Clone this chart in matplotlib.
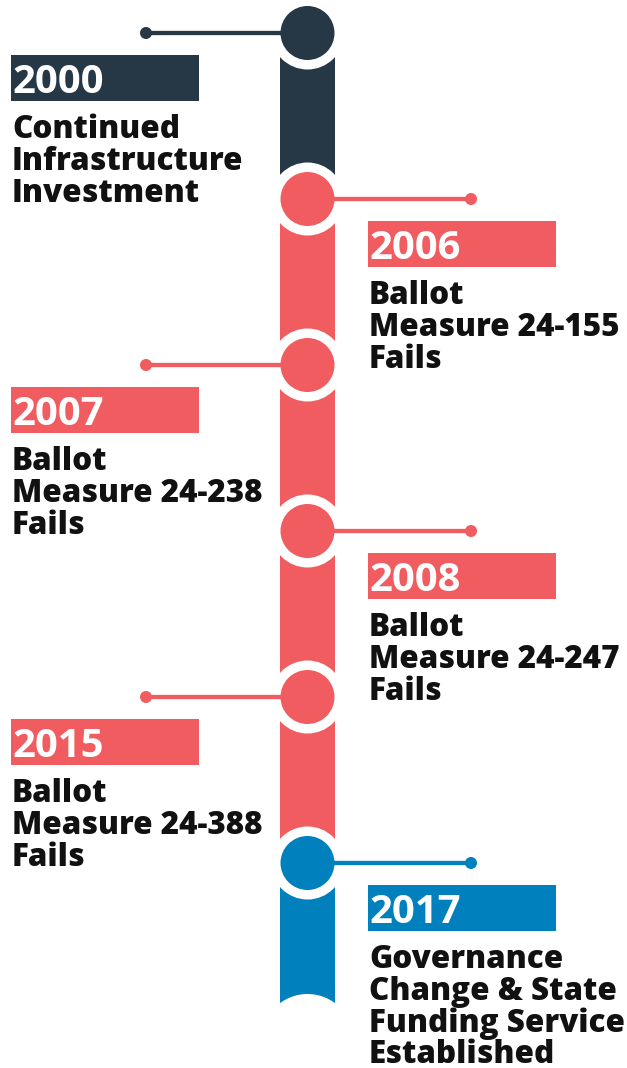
import matplotlib.pyplot as plt
from matplotlib.patches import Circle, Rectangle

# timeline data
years = ["2000", "2006", "2007", "2008", "2015", "2017"]
descriptions = [
    ["Continued", "Infrastructure", "Investment"],
    ["Ballot", "Measure 24-155", "Fails"],
    ["Ballot", "Measure 24-238", "Fails"],
    ["Ballot", "Measure 24-247", "Fails"],
    ["Ballot", "Measure 24-388", "Fails"],
    ["Governance", "Change & State", "Funding Service", "Established"],
]
sides = ["left", "right", "left", "right", "left", "right"]
colors = ["#263746", "#F05C5F", "#F05C5F", "#F05C5F", "#F05C5F", "#0080BC"]

W, H = 627, 1068
fig = plt.figure(figsize=(W / 100, H / 100), dpi=100)
ax = fig.add_axes([0, 0, 1, 1])
ax.set_xlim(0, W)
ax.set_ylim(H, 0)
ax.axis('off')

cx = 307.5
half = 27.5
y0, step = 33, 166
col_end = 1003
node_y = [y0 + i * step for i in range(len(years))]

# column segments, each one takes the colour of the node above it
for i, c in enumerate(colors):
    top = node_y[i]
    bot = node_y[i + 1] if i + 1 < len(node_y) else col_end
    ax.add_patch(Rectangle((cx - half, top), 2 * half, bot - top, color=c, lw=0, zorder=1))
# concave bottom end
ax.add_patch(Circle((cx, col_end - 9 + 46), 46, color='white', lw=0, zorder=2))

font = 'Open Sans'
for i, (yr, desc, side, c) in enumerate(zip(years, descriptions, sides, colors)):
    ny = node_y[i]
    ax.add_patch(Circle((cx, ny), 36.5, color='white', lw=0, zorder=3))
    ax.add_patch(Circle((cx, ny), 27, color=c, lw=0, zorder=5))
    if side == "left":
        end_x, box_x, tx = 146, 11, 11
    else:
        end_x, box_x, tx = 471, 368, 368
    ax.plot([cx, end_x], [ny, ny], color=c, lw=3.1, solid_capstyle='butt', zorder=4)
    ax.add_patch(Circle((end_x, ny), 6, color=c, lw=0, zorder=5))
    ax.add_patch(Rectangle((box_x, ny + 22), 188, 46, color=c, lw=0, zorder=2))
    ax.text(tx + 1, ny + 60, yr, color='white', fontsize=28.8, fontweight='bold',
            family=font, va='baseline', ha='left', zorder=6)
    for j, line in enumerate(desc):
        ax.text(tx + 1, ny + 105.5 + j * 31.5, line, color='#111111', fontsize=22.6,
                fontweight=800, family=font, va='baseline', ha='left', zorder=6)

fig.savefig('out.png', dpi=100)
